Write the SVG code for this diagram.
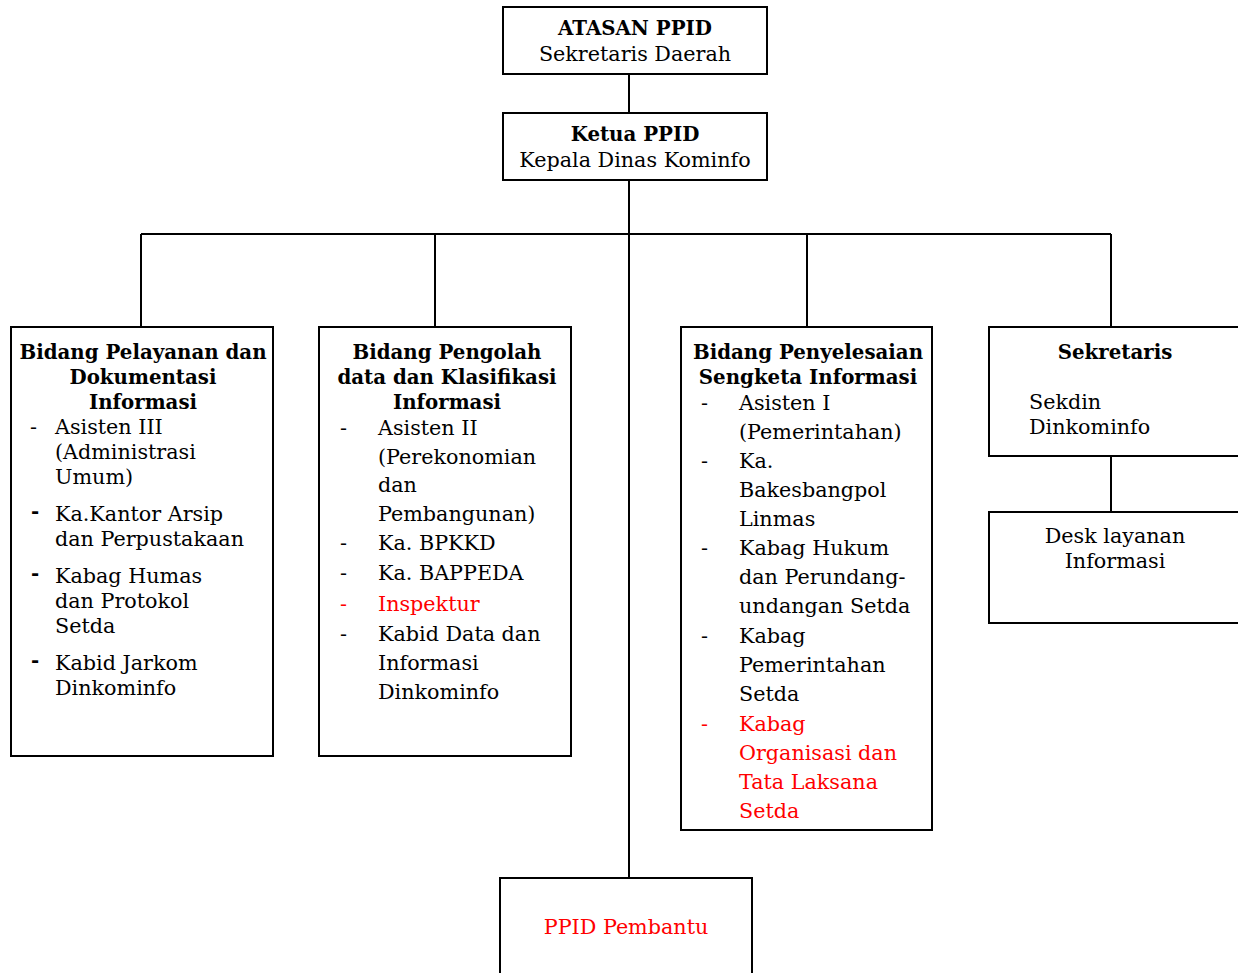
<svg xmlns="http://www.w3.org/2000/svg" width="1238" height="973" viewBox="0 0 1238 973">
<style>
.box{fill:#fff;stroke:#000;stroke-width:2}
.ln{stroke:#000;stroke-width:2;fill:none}
text{font-family:"DejaVu Serif","Liberation Serif",serif;font-size:20.7px;fill:#000}
.b{font-weight:bold;font-size:19.8px}
.c{text-anchor:middle}
.r{fill:#ff0000}
</style>
<rect width="1238" height="973" fill="#fff"/>
<g id="connectors">
<path class="ln" d="M629 74V113M629 180V878M141 234H1111M141 234V327M435 234V327M807 234V327M1111 234V327M1111 456V512"/>
</g>
<g id="atasan">
<rect class="box" x="503" y="7" width="264" height="67"/>
<text class="b c" x="635" y="35">ATASAN PPID</text>
<text class="c" x="635" y="61">Sekretaris Daerah</text>
</g>
<g id="ketua">
<rect class="box" x="503" y="113" width="264" height="67"/>
<text class="b c" x="635" y="141">Ketua PPID</text>
<text class="c" x="635" y="167">Kepala Dinas Kominfo</text>
</g>
<g id="bidang1">
<rect class="box" x="11" y="327" width="262" height="429"/>
<text class="b c" x="143" y="359">Bidang Pelayanan dan</text>
<text class="b c" x="143" y="384">Dokumentasi</text>
<text class="b c" x="143" y="409">Informasi</text>
<text x="30" y="434">-</text><text x="55" y="434">Asisten III</text>
<text x="55" y="459">(Administrasi</text>
<text x="55" y="484">Umum)</text>
<text class="b" x="31" y="518">-</text><text x="55" y="521">Ka.Kantor Arsip</text>
<text x="55" y="546">dan Perpustakaan</text>
<text class="b" x="31" y="580">-</text><text x="55" y="583">Kabag Humas</text>
<text x="55" y="608">dan Protokol</text>
<text x="55" y="633">Setda</text>
<text class="b" x="31" y="667">-</text><text x="55" y="670">Kabid Jarkom</text>
<text x="55" y="695">Dinkominfo</text>
</g>
<g id="bidang2">
<rect class="box" x="319" y="327" width="252" height="429"/>
<text class="b c" x="447" y="359">Bidang Pengolah</text>
<text class="b c" x="447" y="384">data dan Klasifikasi</text>
<text class="b c" x="447" y="409">Informasi</text>
<text x="340" y="435">-</text><text x="378" y="435">Asisten II</text>
<text x="378" y="464">(Perekonomian</text>
<text x="378" y="492">dan</text>
<text x="378" y="521">Pembangunan)</text>
<text x="340" y="550">-</text><text x="378" y="550">Ka. BPKKD</text>
<text x="340" y="580">-</text><text x="378" y="580">Ka. BAPPEDA</text>
<text class="r" x="340" y="611">-</text><text class="r" x="378" y="611">Inspektur</text>
<text x="340" y="641">-</text><text x="378" y="641">Kabid Data dan</text>
<text x="378" y="670">Informasi</text>
<text x="378" y="699">Dinkominfo</text>
</g>
<g id="bidang3">
<rect class="box" x="681" y="327" width="251" height="503"/>
<text class="b c" x="808" y="359">Bidang Penyelesaian</text>
<text class="b c" x="808" y="384">Sengketa Informasi</text>
<text x="701" y="410">-</text><text x="739" y="410">Asisten I</text>
<text x="739" y="439">(Pemerintahan)</text>
<text x="701" y="468">-</text><text x="739" y="468">Ka.</text>
<text x="739" y="497">Bakesbangpol</text>
<text x="739" y="526">Linmas</text>
<text x="701" y="555">-</text><text x="739" y="555">Kabag Hukum</text>
<text x="739" y="584">dan Perundang-</text>
<text x="739" y="613">undangan Setda</text>
<text x="701" y="643">-</text><text x="739" y="643">Kabag</text>
<text x="739" y="672">Pemerintahan</text>
<text x="739" y="701">Setda</text>
<text class="r" x="701" y="731">-</text><text class="r" x="739" y="731">Kabag</text>
<text class="r" x="739" y="760">Organisasi dan</text>
<text class="r" x="739" y="789">Tata Laksana</text>
<text class="r" x="739" y="818">Setda</text>
</g>
<g id="sekretaris">
<rect class="box" x="989" y="327" width="260" height="129"/>
<text class="b c" x="1115" y="359">Sekretaris</text>
<text x="1029" y="409">Sekdin</text>
<text x="1029" y="434">Dinkominfo</text>
</g>
<g id="desk">
<rect class="box" x="989" y="512" width="260" height="111"/>
<text class="c" x="1115" y="543">Desk layanan</text>
<text class="c" x="1115" y="568">Informasi</text>
</g>
<g id="pembantu">
<rect class="box" x="500" y="878" width="252" height="110"/>
<text class="c r" x="626" y="934">PPID Pembantu</text>
</g>
</svg>
